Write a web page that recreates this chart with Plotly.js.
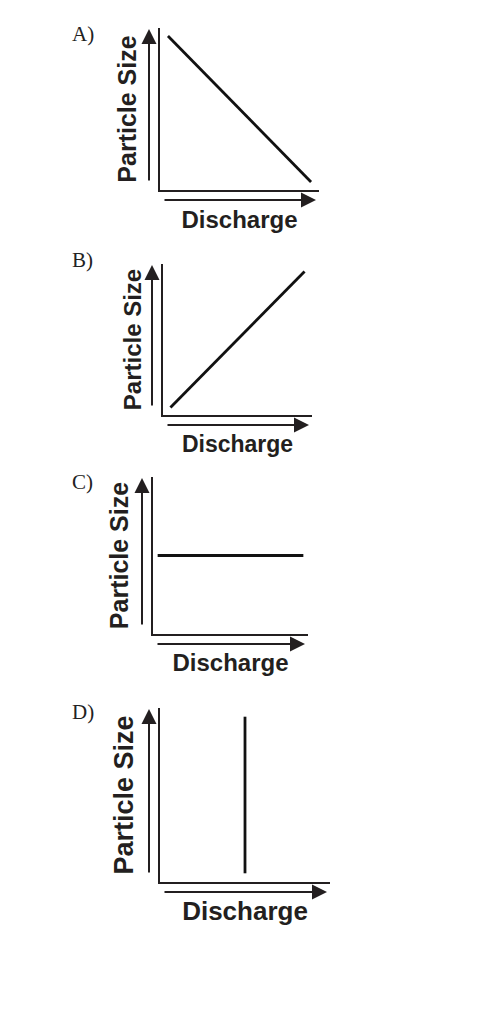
<!DOCTYPE html>
<html>
<head>
<meta charset="utf-8">
<script src="https://cdn.plot.ly/plotly-3.0.1.min.js"></script>
<style>html,body{margin:0;padding:0;background:#fff;}#chart{width:490px;height:1022px;}</style>
</head>
<body>
<div id="chart"></div>
<script>
// Panel labels and axis titles
const panelLabels = ["A)", "B)", "C)", "D)"];
const xTitle = "Discharge";
const yTitle = "Particle Size";

// Schematic relationships (arbitrary units, 0-10 scale)
const dischargeA = [0.5, 9.5];
const sizeA      = [9.5, 0.5];
const dischargeB = [0.5, 9.5];
const sizeB      = [0.5, 9.5];
const dischargeC = [0.3, 9.7];
const sizeC      = [5, 5];
const dischargeD = [5, 5];
const sizeD      = [0.5, 9.5];

const W = 490, H = 1022;
// panel frames in pixels: [left, right, top, bottom]
const frames = [
  [160, 319, 28, 190],
  [163, 312, 264, 415],
  [153, 308, 477, 634],
  [160, 330, 708, 882]
];
const labelY = [34, 260, 482, 712];
const xFont = [24, 23, 24, 26];
const yFont = [25, 24, 25, 27];
const xStand = [20, 20, 19, 19];
const yStand = [14, 13, 15, 17];

const ink = '#231f20';
const xs = [dischargeA, dischargeB, dischargeC, dischargeD];
const ys = [sizeA, sizeB, sizeC, sizeD];

const data = [];
const layout = {
  width: W, height: H,
  margin: {l: 0, r: 0, t: 0, b: 0},
  paper_bgcolor: '#fff', plot_bgcolor: '#fff',
  showlegend: false,
  annotations: []
};

for (let i = 0; i < 4; i++) {
  const [l, r, t, b] = frames[i];
  const sfx = i === 0 ? '' : String(i + 1);
  data.push({
    x: xs[i], y: ys[i], type: 'scatter', mode: 'lines',
    xaxis: 'x' + sfx, yaxis: 'y' + sfx,
    line: {color: '#111', width: 2.8},
    hoverinfo: 'skip'
  });
  layout['xaxis' + sfx] = {
    domain: [l / W, r / W], range: [0, 10], anchor: 'y' + sfx,
    showgrid: false, zeroline: false, showticklabels: false, ticks: '',
    showline: true, linecolor: ink, linewidth: 2,
    title: {text: xTitle, standoff: xStand[i],
      font: {family: 'Liberation Sans, Arial, sans-serif', size: xFont[i], color: ink, weight: 'bold'}},
    fixedrange: true
  };
  layout['yaxis' + sfx] = {
    domain: [1 - b / H, 1 - t / H], range: [0, 10], anchor: 'x' + sfx,
    showgrid: false, zeroline: false, showticklabels: false, ticks: '',
    showline: true, linecolor: ink, linewidth: 2,
    title: {text: yTitle, standoff: yStand[i],
      font: {family: 'Liberation Sans, Arial, sans-serif', size: yFont[i], color: ink, weight: 'bold'}},
    fixedrange: true
  };
  // panel letter
  layout.annotations.push({
    xref: 'paper', yref: 'paper', x: 70 / W, y: 1 - labelY[i] / H,
    xanchor: 'left', yanchor: 'middle', showarrow: false,
    text: panelLabels[i],
    font: {family: 'Liberation Serif, Times New Roman, serif', size: 21, color: '#222'}
  });
  // up arrow (left of y axis)
  const ux = l - 11;
  layout.annotations.push({
    xref: 'paper', yref: 'paper', x: ux / W, y: 1 - (t + 1) / H,
    ax: 0, ay: (b - 8) - (t + 1), text: '', showarrow: true,
    arrowhead: 2, arrowsize: 1.5, arrowwidth: 2, arrowcolor: ink, standoff: 0
  });
  // right arrow (below x axis)
  layout.annotations.push({
    xref: 'paper', yref: 'paper', x: (r - 3) / W, y: 1 - (b + 10) / H,
    ax: (l + 3) - (r - 3), ay: 0, text: '', showarrow: true,
    arrowhead: 2, arrowsize: 1.5, arrowwidth: 2, arrowcolor: ink, standoff: 0
  });
}

Plotly.newPlot('chart', data, layout, {displayModeBar: false, staticPlot: true});
</script>
</body>
</html>
